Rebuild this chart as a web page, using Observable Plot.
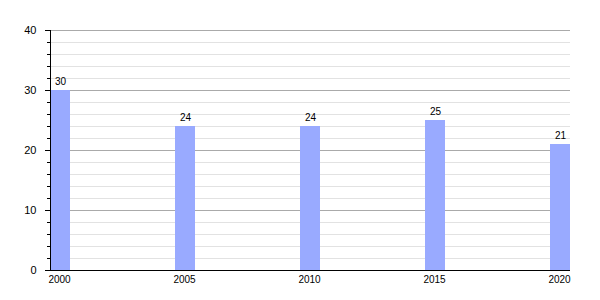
<!DOCTYPE html>
<html>
<head>
<meta charset="utf-8">
<script src="https://cdn.jsdelivr.net/npm/d3@7"></script>
<script src="https://cdn.jsdelivr.net/npm/@observablehq/plot@0.6"></script>
<style>
  html, body { margin: 0; padding: 0; background: #fff; }
</style>
</head>
<body>
<div id="chart"></div>
<script>
const years = [2000, 2005, 2010, 2015, 2020];
const values = [30, 24, 24, 25, 21];
const majorTicks = [0, 10, 20, 30, 40];
const minorTicks = d3.range(0, 41, 2);

const data = years.map((year, i) => ({year, value: values[i]}));
const barW = 0.8;

const chart = Plot.plot({
  width: 600,
  height: 300,
  marginLeft: 50,
  marginRight: 30,
  marginTop: 30,
  marginBottom: 30,
  style: {fontFamily: "'Liberation Sans', Arial, sans-serif", fontSize: "10px", color: "#000", background: "#fff"},
  x: {domain: [2000, 2020 + barW], axis: null},
  y: {domain: [0, 40], axis: null},
  marks: [
    Plot.ruleY(minorTicks.filter(d => d % 10 !== 0), {stroke: "#e2e2e2", strokeWidth: 1}),
    Plot.ruleY(majorTicks.filter(d => d !== 0), {stroke: "#aaaaaa", strokeWidth: 1}),
    Plot.rectY(data, {x1: "year", x2: d => d.year + barW, y: "value", fill: "#99aaff"}),
    Plot.text(data, {x: d => d.year + barW / 2, y: "value", text: d => String(d.value), dy: -9, fill: "#000", fontSize: 10}),
    Plot.ruleY([0], {stroke: "#000"}),
    Plot.ruleX([2000], {stroke: "#000"}),
    Plot.axisY({ticks: minorTicks, tickSize: 3, tickFormat: () => "", stroke: "#000", label: null}),
    Plot.axisY({ticks: majorTicks, tickSize: 5, tickPadding: 9, tickFormat: d3.format("d"), stroke: "#000", label: null, fontSize: 11}),
    Plot.axisX({ticks: years, tickSize: 0, tickPadding: 5, dx: 9, tickFormat: d3.format("d"), label: null, fontSize: 10})
  ]
});
document.getElementById("chart").appendChild(chart);
</script>
</body>
</html>
